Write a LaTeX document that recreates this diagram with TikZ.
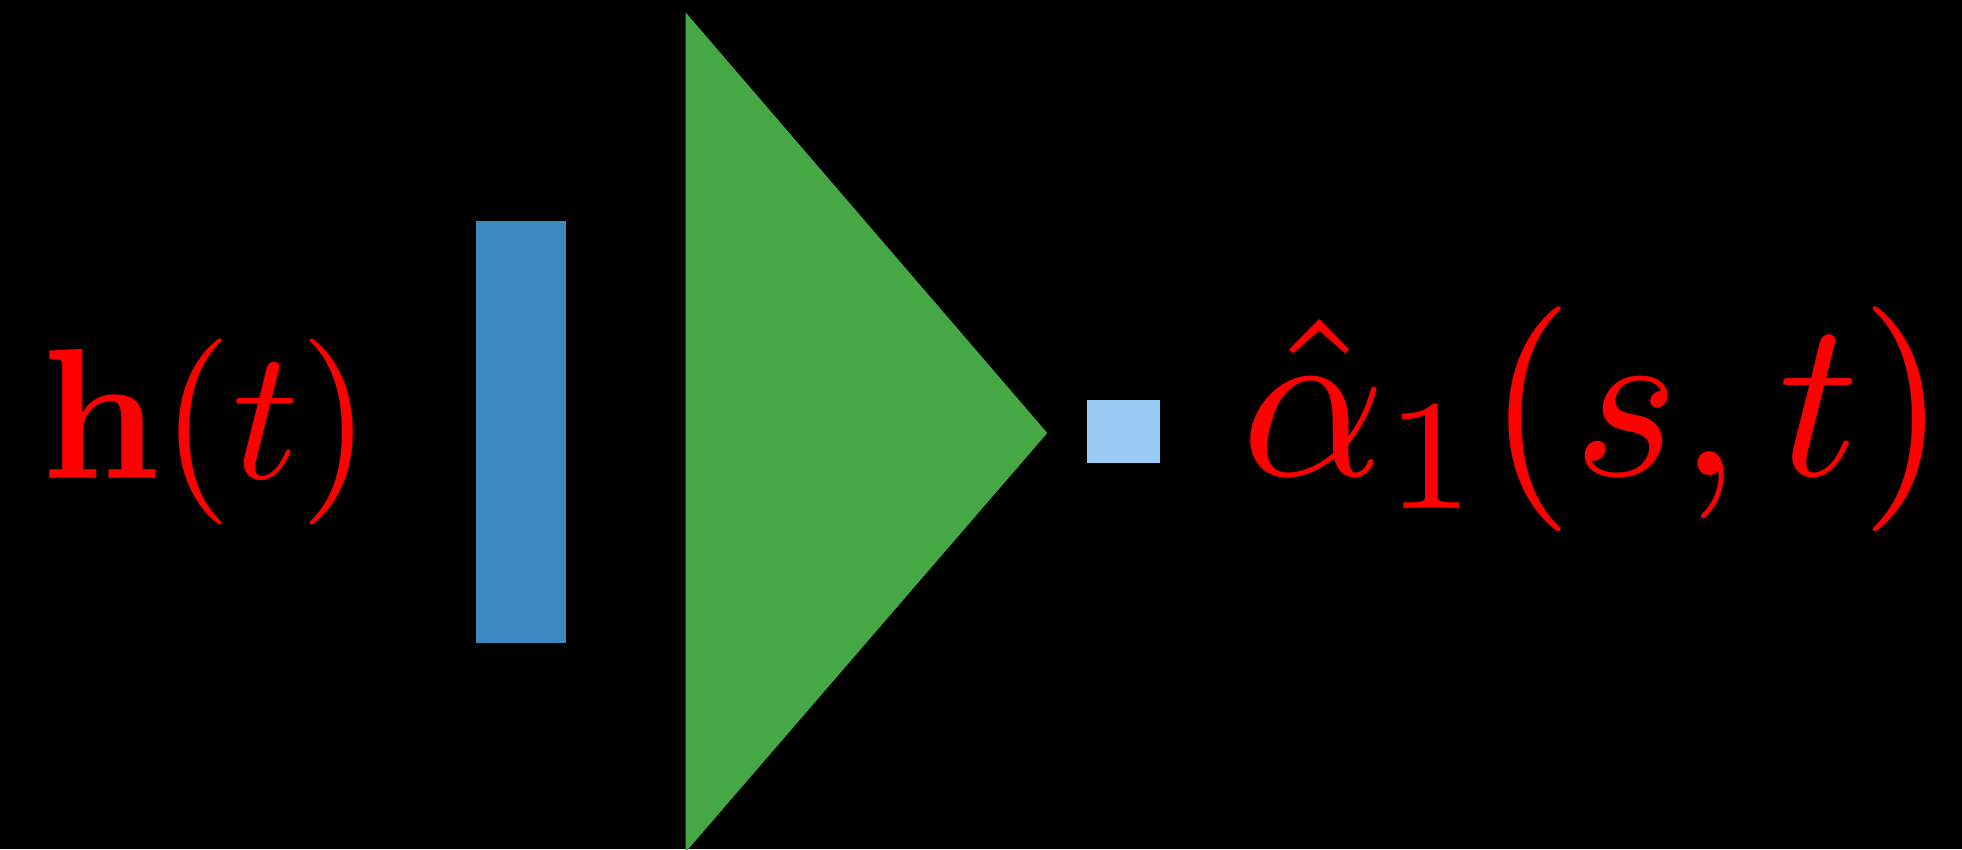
\documentclass[tikz,border=0pt]{standalone}
\usepackage{graphicx}
\definecolor{bluebar}{RGB}{58,138,192}
\definecolor{trigreen}{RGB}{69,168,69}
\definecolor{lightsq}{RGB}{153,204,245}
\begin{document}
\begin{tikzpicture}[x=1pt,y=-1pt,
  lab/.style={text=red, inner sep=0pt, anchor=base west},
  blk/.style={inner sep=0pt, draw=none}]
\fill[black] (0,0) rectangle (1962,849);
\useasboundingbox (0,0) rectangle (1962,849);
\node[lab] (h) at (41,478) {\scalebox{18.6}{$\mathbf{h}(t)$}};
\node[blk, fill=bluebar, minimum width=90pt, minimum height=422pt] (bar) at (520.5,432.3) {};
\coordinate (t1) at (685.7,12.5);
\coordinate (t2) at (1047.3,433);
\coordinate (t3) at (685.7,852);
\fill[trigreen] (t1) -- (t2) -- (t3) -- cycle;
\node[blk, fill=lightsq, minimum width=73pt, minimum height=63pt] (sq) at (1123.7,431.7) {};
\node[lab] (a) at (1241,475) {\scalebox{22.5}{$\hat\alpha_1(s,t)$}};
\end{tikzpicture}
\end{document}
